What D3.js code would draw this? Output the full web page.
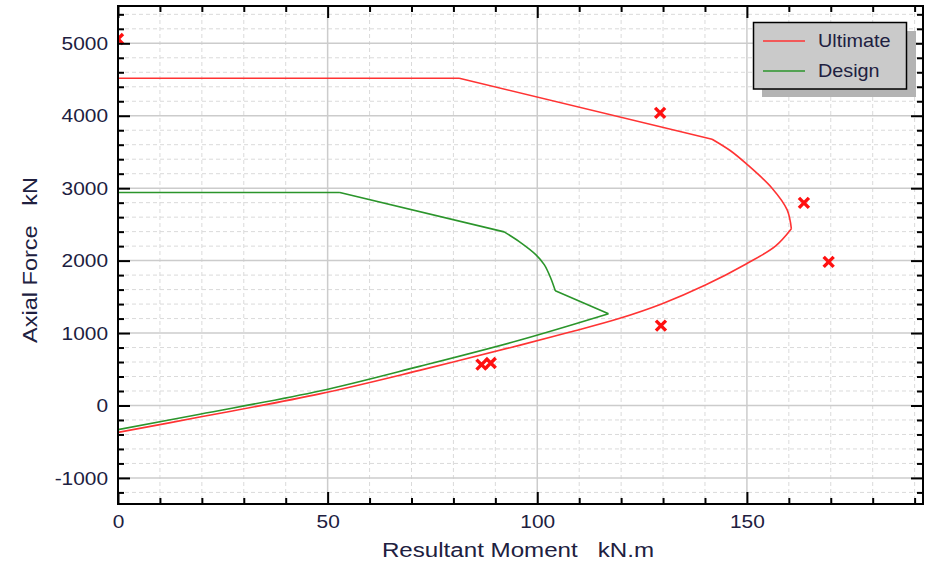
<!DOCTYPE html>
<html>
<head>
<meta charset="utf-8">
<script src="https://cdn.jsdelivr.net/npm/d3@7"></script>
<style>
  body { margin: 0; background: #fff; }
  svg { font-family: "Liberation Sans", Arial, sans-serif; }
</style>
</head>
<body>
<div id="chart"></div>
<script>
// interaction diagram data
const ultimateM = [0, 81.4, 141.7, 146, 149.7, 156, 159.6, 160.6, 156.8, 149.7, 140.1, 129.8, 119.5, 107.6, 95.7, 71.9, 48.1, 19.5, 0];
const ultimateP = [4517, 4517, 3676, 3520, 3345, 3000, 2700, 2440, 2200, 1950, 1662, 1405, 1200, 1010, 830, 485, 160, -160, -371];
const ultimateCorners = [1, 2, 7];

const designM = [0, 52.9, 92.1, 95.7, 99.7, 101.7, 103.2, 104.3, 117, 95.7, 71.9, 48.1, 19.5, 0];
const designP = [2940, 2940, 2397, 2263, 2080, 1942, 1760, 1583, 1266, 900, 540, 200, -120, -333];
const designCorners = [1, 2, 7, 8];

const markM = [0, 129.3, 163.6, 169.5, 129.5, 86.7, 88.9];
const markP = [5060, 4039, 2797, 1983, 1103, 564, 587];

const xMajor = [0, 50, 100, 150];
const yMajor = [-1000, 0, 1000, 2000, 3000, 4000, 5000];
const seriesNames = ["Ultimate", "Design"];
const seriesColors = ["#ff3333", "#2b952b"];

// dimensions
const width = 925, height = 566;
const plot = { left: 118, right: 923, top: 6, bottom: 504 };

const x = d3.scaleLinear().domain([0, 192]).range([plot.left, plot.right]);
const y = d3.scaleLinear().domain([-1360, 5515]).range([plot.bottom, plot.top]);

const xMinor = d3.range(0, 192, 10).filter(v => v % 50 !== 0);
const yMinor = d3.range(-1200, 5515, 200).filter(v => v % 1000 !== 0);

const svg = d3.select("#chart").append("svg")
  .attr("width", width)
  .attr("height", height);

svg.append("clipPath").attr("id", "clip")
  .append("rect")
  .attr("x", plot.left).attr("y", plot.top)
  .attr("width", plot.right - plot.left).attr("height", plot.bottom - plot.top);

// grid
const grid = svg.append("g");
grid.selectAll(".gxm").data(xMinor).enter().append("line")
  .attr("x1", d => x(d)).attr("x2", d => x(d))
  .attr("y1", plot.top).attr("y2", plot.bottom)
  .attr("stroke", "#dadada").attr("stroke-dasharray", "4,3");
grid.selectAll(".gym").data(yMinor).enter().append("line")
  .attr("y1", d => y(d)).attr("y2", d => y(d))
  .attr("x1", plot.left).attr("x2", plot.right)
  .attr("stroke", "#dadada").attr("stroke-dasharray", "4,3");
grid.selectAll(".gxM").data(xMajor).enter().append("line")
  .attr("x1", d => x(d)).attr("x2", d => x(d))
  .attr("y1", plot.top).attr("y2", plot.bottom)
  .attr("stroke", "#cccccc").attr("stroke-width", 1.5);
grid.selectAll(".gyM").data(yMajor).enter().append("line")
  .attr("y1", d => y(d)).attr("y2", d => y(d))
  .attr("x1", plot.left).attr("x2", plot.right)
  .attr("stroke", "#cccccc").attr("stroke-width", 1.5);

// curves: smooth between corners, sharp at the corners
const line = d3.line().x(d => x(d[0])).y(d => y(d[1]))
  .curve(d3.curveCatmullRom.alpha(0.5));

function pieces(ms, ps, corners) {
  const pts = ms.map((m, i) => [m, ps[i]]);
  const cuts = [0, ...corners, pts.length - 1];
  const out = [];
  for (let i = 0; i < cuts.length - 1; i++) out.push(pts.slice(cuts[i], cuts[i + 1] + 1));
  return out;
}

const curves = svg.append("g").attr("clip-path", "url(#clip)");
[[ultimateM, ultimateP, ultimateCorners], [designM, designP, designCorners]].forEach((s, k) => {
  curves.append("path")
    .attr("d", pieces(s[0], s[1], s[2]).map(p => line(p)).join(""))
    .attr("fill", "none")
    .attr("stroke", seriesColors[k]).attr("stroke-width", 1.6)
    .attr("stroke-linejoin", "miter");
});

// load points
curves.selectAll(".mark").data(markM.map((m, i) => [m, markP[i]])).enter()
  .append("path")
  .attr("transform", d => `translate(${x(d[0])},${y(d[1])})`)
  .attr("d", "M-5,-5L5,5M-5,5L5,-5")
  .attr("stroke", "#ff1010").attr("stroke-width", 3.4).attr("fill", "none");

// axes (ticks point inward)
function styleAxis(g) {
  g.select(".domain").remove();
  g.selectAll(".tick line").attr("stroke", "#000").attr("stroke-width", 2);
  g.selectAll(".tick text").attr("fill", "#202040").style("font-size", "19px");
}
const fmt = d => String(d);
svg.append("g").attr("transform", `translate(0,${plot.bottom})`)
  .call(d3.axisBottom(x).tickValues(xMajor).tickSize(-12).tickPadding(11).tickFormat(fmt))
  .call(styleAxis)
  .call(g => g.selectAll(".tick text").attr("transform", "scale(1.1,1)"));
svg.append("g").attr("transform", `translate(0,${plot.bottom})`)
  .call(d3.axisBottom(x).tickValues(xMinor).tickSize(-6).tickFormat(""))
  .call(styleAxis);
svg.append("g").attr("transform", `translate(0,${plot.top})`)
  .call(d3.axisTop(x).tickValues(xMajor).tickSize(-12).tickFormat(""))
  .call(styleAxis);
svg.append("g").attr("transform", `translate(0,${plot.top})`)
  .call(d3.axisTop(x).tickValues(xMinor).tickSize(-6).tickFormat(""))
  .call(styleAxis);

svg.append("g").attr("transform", `translate(${plot.left},0)`)
  .call(d3.axisLeft(y).tickValues(yMajor).tickSize(-12).tickPadding(9).tickFormat(fmt))
  .call(styleAxis)
  .call(g => g.selectAll(".tick text").attr("transform", "scale(1.1,1)"));
svg.append("g").attr("transform", `translate(${plot.left},0)`)
  .call(d3.axisLeft(y).tickValues(yMinor).tickSize(-6).tickFormat(""))
  .call(styleAxis);
svg.append("g").attr("transform", `translate(${plot.right},0)`)
  .call(d3.axisRight(y).tickValues(yMajor).tickSize(-12).tickFormat(""))
  .call(styleAxis);
svg.append("g").attr("transform", `translate(${plot.right},0)`)
  .call(d3.axisRight(y).tickValues(yMinor).tickSize(-6).tickFormat(""))
  .call(styleAxis);

// frame
svg.append("rect")
  .attr("x", plot.left).attr("y", plot.top)
  .attr("width", plot.right - plot.left).attr("height", plot.bottom - plot.top)
  .attr("fill", "none").attr("stroke", "#000").attr("stroke-width", 2);

// axis titles
svg.append("text")
  .attr("transform", "translate(518,557) scale(1.15,1)")
  .attr("text-anchor", "middle")
  .style("white-space", "pre")
  .style("font-size", "21px").attr("fill", "#202040")
  .text("Resultant Moment   kN.m");
svg.append("text")
  .attr("transform", "translate(37,260) rotate(-90) scale(1.12,1)")
  .attr("text-anchor", "middle")
  .style("white-space", "pre")
  .style("font-size", "21px").attr("fill", "#202040")
  .text("Axial Force   kN");

// legend
const legend = svg.append("g");
legend.append("rect")
  .attr("x", 762).attr("y", 31).attr("width", 154).attr("height", 66)
  .attr("fill", "#b3b3b3");
legend.append("rect")
  .attr("x", 753.5).attr("y", 22.5).attr("width", 153).attr("height", 66.5)
  .attr("fill", "#cacaca").attr("stroke", "#000").attr("stroke-width", 1.5);
seriesNames.forEach((name, i) => {
  const ly = 41 + i * 30;
  legend.append("line")
    .attr("x1", 763).attr("x2", 805).attr("y1", ly).attr("y2", ly)
    .attr("stroke", seriesColors[i]).attr("stroke-width", 1.6);
  legend.append("text")
    .attr("transform", `translate(818,${ly + 6}) scale(1.1,1)`)
    .style("font-size", "18px").attr("fill", "#202040")
    .text(name);
});
</script>
</body>
</html>
